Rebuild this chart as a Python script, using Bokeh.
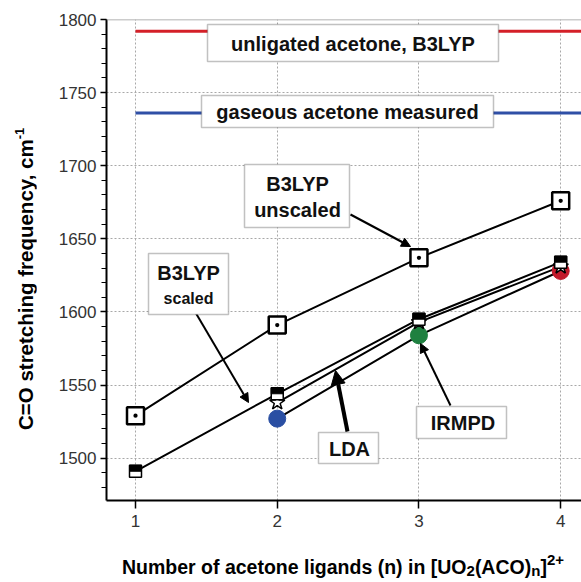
from bokeh.plotting import figure
from bokeh.layouts import column, row
from bokeh.models import BoxAnnotation, Label, Arrow, NormalHead, Span, FixedTicker, Range1d, Div
from bokeh.embed import file_html
from bokeh.resources import INLINE

# ---- data ----
n_all = [1, 2, 3, 4]
n_ir = [2, 3, 4]
b3lyp_unscaled = [1529, 1591, 1637, 1676]
b3lyp_scaled = [1491, 1544, 1595, 1634]
lda = [1538, 1593, 1631]
irmpd = [1527, 1584, 1628]
irmpd_colors = ["#2a4fa3", "#1f8040", "#c21a2b"]
unligated_b3lyp = 1792
gaseous_measured = 1736
y_ticks = [1500, 1550, 1600, 1650, 1700, 1750, 1800]
x_ticks = [1, 2, 3, 4]

FONT = "Liberation Sans"
YLAB_W = 36
LEFT, TOP, BOTTOM = 106, 19, 45
FW, FH = 475, 481
sx = 141.73
sy = FH / 329.0
X0 = 1 - (135 - LEFT) / sx
X1 = X0 + FW / sx
Y1 = 1800
Y0 = Y1 - FH / sy


def px2x(px):
    return X0 + (px - LEFT) / sx


def py2y(py):
    return Y1 - (py - TOP) / sy


p = figure(frame_width=FW, frame_height=FH, min_border_left=LEFT - YLAB_W, min_border_top=TOP,
           min_border_bottom=BOTTOM, min_border_right=0,
           x_range=Range1d(X0, X1), y_range=Range1d(Y0, Y1),
           output_backend="svg", toolbar_location=None, margin=(0, 0, 0, 0))
p.outline_line_color = None
p.background_fill_color = "white"
p.border_fill_color = "white"

# grid
p.xgrid.ticker = FixedTicker(ticks=x_ticks)
p.ygrid.ticker = FixedTicker(ticks=y_ticks)
for g in (p.xgrid, p.ygrid):
    g.grid_line_color = "#a8a8a8"
    g.grid_line_dash = "2 2"
    g.grid_line_width = 1

p.add_layout(Span(location=Y1, dimension="width", line_color="#999999", line_width=1.5))

# axes
p.xaxis.ticker = FixedTicker(ticks=x_ticks)
p.yaxis.ticker = FixedTicker(ticks=y_ticks, minor_ticks=list(range(1480, 1801, 10)))
for ax in (p.xaxis, p.yaxis):
    ax.axis_line_width = 2
    ax.axis_line_color = "black"
    ax.major_tick_line_color = "black"
    ax.major_tick_line_width = 1.5
    ax.major_tick_in = 0
    ax.major_label_text_font = FONT
    ax.major_label_text_font_size = "17px"
    ax.major_label_text_color = "#333333"
p.xaxis.major_tick_out = 8
p.xaxis.minor_tick_line_color = None
p.yaxis.major_tick_out = 6
p.yaxis.minor_tick_out = 5
p.yaxis.minor_tick_in = 0
p.yaxis.minor_tick_line_color = "black"
p.yaxis.minor_tick_line_width = 1.2
p.xaxis.major_label_standoff = 6
p.yaxis.major_label_standoff = 4

# reference lines
p.line([1, 4.3], [unligated_b3lyp] * 2, line_color="#d42028", line_width=3)
p.line([1, 4.3], [gaseous_measured] * 2, line_color="#2f4fa6", line_width=3)

# series lines
p.line(n_all, b3lyp_unscaled, line_color="black", line_width=2)
p.line(n_all, b3lyp_scaled, line_color="black", line_width=2)
p.line(n_ir, lda, line_color="black", line_width=2)
p.line(n_ir, irmpd, line_color="black", line_width=2)

# markers
p.scatter(n_ir, irmpd, marker="circle", size=17, fill_color=irmpd_colors, line_color=irmpd_colors)
p.scatter(n_ir, lda, marker="star", size=16, fill_color="white", line_color="black", line_width=1.5)
p.scatter(n_all, b3lyp_scaled, marker="square", size=12, fill_color="white", line_color="black", line_width=1.5)
p.rect(n_all, [v + 3 / sy for v in b3lyp_scaled], width=12 / sx, height=6 / sy,
       fill_color="black", line_color="black", line_width=1)
p.scatter(n_all, b3lyp_unscaled, marker="square_dot", size=17, fill_color="white",
          line_color="black", line_width=2.5)

# annotation boxes (pixel edges: left, right, top, bottom)
boxes = [
    (207, 498, 24, 61),
    (201, 493, 95, 127),
    (244, 349, 164, 227),
    (148, 228, 253, 314),
    (318, 378, 432, 463),
    (416, 506, 406, 438),
]
for l, r, t, b in boxes:
    p.add_layout(BoxAnnotation(left=px2x(l), right=px2x(r), bottom=py2y(b), top=py2y(t),
                               fill_color="white", fill_alpha=1,
                               line_color="#333333", line_width=1.5, level="overlay"))

labels = [
    (352.5, 43, "unligated acetone, B3LYP", "20px"),
    (347, 111.5, "gaseous acetone measured", "20px"),
    (297, 183, "B3LYP", "20px"),
    (297, 209, "unscaled", "20px"),
    (188, 272, "B3LYP", "20px"),
    (188, 298, "scaled", "16px"),
    (349, 448, "LDA", "20px"),
    (462.5, 422.5, "IRMPD", "20px"),
]
for px, py, t, fs in labels:
    p.add_layout(Label(x=px2x(px), y=py2y(py), text=t, text_font=FONT, text_font_style="bold",
                       text_font_size=fs, text_align="center", text_baseline="middle",
                       text_color="#111111", level="overlay"))

# arrows (pixel start -> end)
arrows = [
    (350, 214, 410, 246, 2, 9),
    (195, 312, 248, 402, 2, 9),
    (347, 431, 335, 370, 4, 14),
    (450, 405, 420, 343, 2, 9),
]
for xs, ys, xe, ye, lw, hs in arrows:
    p.add_layout(Arrow(x_start=px2x(xs), y_start=py2y(ys), x_end=px2x(xe), y_end=py2y(ye),
                       line_width=lw, line_color="black",
                       end=NormalHead(size=hs, fill_color="black", line_color="black", line_width=1)))

# y-axis title (rotated HTML text with real superscript)
ytitle_html = (
    f"<div style=\"position:relative;width:{YLAB_W}px;height:545px\">"
    "<div style=\"position:absolute;left:16px;top:430px;transform-origin:0 0;transform:rotate(-90deg);"
    "white-space:nowrap;font-family:'Liberation Sans',Arial,sans-serif;font-weight:bold;font-size:20.5px;"
    "line-height:20px;color:black\">C=O stretching frequency, cm"
    "<span style=\"font-size:13px;position:relative;top:-9px\">-1</span></div></div>"
)
ytitle = Div(text=ytitle_html, width=YLAB_W, height=545, margin=(0, 0, 0, 0))

# x-axis title with real sub/superscripts
sub = "font-size:15px;position:relative;top:2px"
sup = "font-size:15px;position:relative;top:-9px"
xtitle_html = (
    "<div style=\"font-family:'Liberation Sans',Arial,sans-serif;font-weight:bold;font-size:19.5px;"
    "line-height:22px;white-space:nowrap;padding-left:122px;padding-top:11px;color:black\">"
    "Number of acetone ligands (n) in [UO"
    f"<span style=\"{sub}\">2</span>(ACO)<span style=\"{sub}\">n</span>]"
    f"<span style=\"{sup}\">2+</span></div>"
)
xtitle = Div(text=xtitle_html, width=581, height=37, margin=(0, 0, 0, 0))

layout = column(row(ytitle, p, spacing=0), xtitle, spacing=0)
open("out.html", "w").write(file_html(layout, INLINE))
